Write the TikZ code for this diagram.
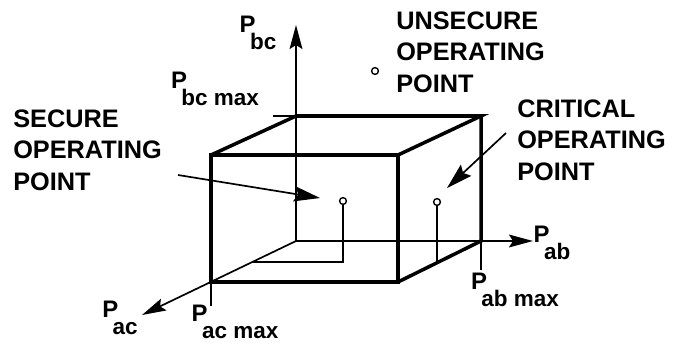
\documentclass[tikz,border=0pt]{standalone}
\usepackage{fontspec}
\setmainfont{Liberation Sans}
\usetikzlibrary{arrows.meta, calc}

% P with a lowered subscript, as lettered on the axes
\newcommand{\Pax}[1]{P\kern-4pt\raisebox{-12.5pt}{\fontsize{16}{16}\selectfont #1}}

\tikzset{
  axis/.style={line width=1.2pt, -{Stealth[length=6mm, width=3.2mm, inset=1mm]}},
  boxedge/.style={line width=2.5pt, line join=miter},
  thinline/.style={line width=1.2pt},
  pointer/.style={line width=1.2pt, -{Stealth[length=6.5mm, width=3.8mm, inset=1mm]}},
  opdot/.style={circle, draw, fill=white, line width=1pt, inner sep=0pt, minimum size=1.7mm},
  lbl/.style={font=\fontsize{18}{22.5}\selectfont\bfseries, align=left, inner sep=0pt, anchor=west},
  axlbl/.style={font=\fontsize{17}{17}\selectfont\bfseries, inner sep=0pt}
}

\begin{document}
\begin{tikzpicture}

\useasboundingbox (0,0) rectangle (16.9,8.65);

% ============================================================
% Axes: origin at back bottom left corner of the box
% ============================================================
\coordinate (O) at (7.40,2.625);
\coordinate (bctip) at (7.40,8.025);
\coordinate (abtip) at (13.325,2.625);
\coordinate (actip) at (3.55,0.775);

\draw[axis] (O) -- (bctip);
\draw[axis] (O) -- (abtip);
\draw[axis] (O) -- (actip);

% ============================================================
% Box of limits
% ============================================================
\coordinate (A) at (5.275,1.6);    % P_ac max
\coordinate (B) at (9.95,1.6);
\coordinate (C) at (9.95,4.775);
\coordinate (D) at (5.275,4.775);
\coordinate (E) at (7.40,5.75);    % P_bc max
\coordinate (F) at (12.025,5.75);
\coordinate (G) at (12.025,2.625); % P_ab max

\draw[boxedge] (A) -- (B) -- (C) -- (D) -- cycle;
\draw[boxedge] (D) -- (E) -- (F) -- (C);
\draw[boxedge] (F) -- (G) -- (B);

% Limit ticks
\coordinate (bcmaxtick) at (6.825,5.75);
\coordinate (abmaxtick) at (12.025,1.9);
\coordinate (acmaxtick) at (5.275,1.0);
\draw[thinline] (bcmaxtick) -- (E);
\draw[thinline] (G) -- (abmaxtick);
\draw[thinline] (A) -- (acmaxtick);

% Axis labels
\node[axlbl] (pbc) at (6.45,7.825) {\Pax{bc}};
\node[axlbl] (pbcmax) at (5.375,6.425) {\Pax{bc max}};
\node[axlbl] (pab) at (13.8,2.575) {\Pax{ab}};
\node[axlbl] (pabmax) at (12.875,1.4) {\Pax{ab max}};
\node[axlbl] (pac) at (3.0,0.7) {\Pax{ac}};
\node[axlbl] (pacmax) at (5.875,0.6) {\Pax{ac max}};

% ============================================================
% Operating points
% ============================================================
\coordinate (secfoot) at (6.31,2.1);
\coordinate (critfoot) at (10.925,2.08);
\draw[thinline] (8.575,3.625) |- (secfoot);
\draw[thinline] (10.925,3.6) -- (critfoot);

\node[opdot] (unsec) at (9.375,6.875) {};
\node[opdot] (sec) at (8.575,3.625) {};
\node[opdot] (crit) at (10.925,3.6) {};

% Texts
\node[lbl] (sectext) at (0.325,4.9) {SECURE\\OPERATING\\POINT};
\node[lbl] (unsectext) at (9.9,7.35) {UNSECURE\\OPERATING\\POINT};
\node[lbl] (crittext) at (12.925,5.15) {CRITICAL\\OPERATING\\POINT};

% Pointers
\coordinate (secfrom) at (4.45,4.275);
\coordinate (secto) at (8.0,3.7);
\coordinate (critfrom) at (12.65,5.325);
\coordinate (critto) at (11.175,3.95);
\draw[pointer] (secfrom) -- (secto);
\draw[pointer] (critfrom) -- (critto);

\end{tikzpicture}
\end{document}
